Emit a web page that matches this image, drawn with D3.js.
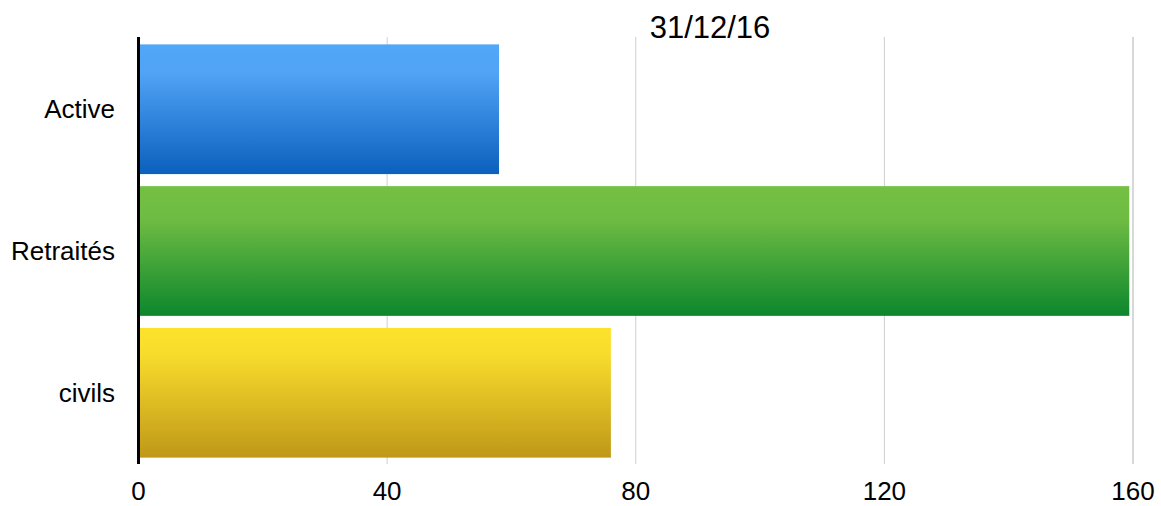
<!DOCTYPE html>
<html>
<head>
<meta charset="utf-8">
<title>31/12/16</title>
<script src="https://cdn.jsdelivr.net/npm/d3@7"></script>
<style>
  body { margin: 0; background: #fff; }
  text { font-family: "Liberation Sans", Arial, sans-serif; fill: #000; }
</style>
</head>
<body>
<script>
// data
var categories = ["Active", "Retraités", "civils"];
var values = [58, 159.4, 76];
var ticks = [0, 40, 80, 120, 160];
var title = "31/12/16";

// gradient stops per bar (top -> bottom)
var gradients = [
  [["0%", "#52a7f8"], ["22%", "#50a3f5"], ["100%", "#0b60bd"]],
  [["0%", "#73c044"], ["25%", "#6fbc43"], ["100%", "#0c872d"]],
  [["0%", "#fce22d"], ["20%", "#f8dc2c"], ["100%", "#bf9818"]]
];

var width = 1161, height = 506;

var svg = d3.select("body").append("svg")
    .attr("width", width)
    .attr("height", height);

var x = d3.scaleLinear().domain([0, 160]).range([138.5, 1133]);
var y = d3.scaleBand().domain(categories).range([38, 464])
    .paddingInner(0.085).paddingOuter(0.045);

var defs = svg.append("defs");
gradients.forEach(function(g, i) {
  var lg = defs.append("linearGradient")
      .attr("id", "grad" + i)
      .attr("x1", 0).attr("x2", 0).attr("y1", 0).attr("y2", 1);
  g.forEach(function(s) {
    lg.append("stop").attr("offset", s[0]).attr("stop-color", s[1]);
  });
});

// gridlines
svg.append("g").selectAll("line")
    .data(ticks.slice(1))
  .enter().append("line")
    .attr("x1", function(d) { return x(d); })
    .attr("x2", function(d) { return x(d); })
    .attr("y1", 37).attr("y2", 464)
    .attr("stroke", "#cfcfcf")
    .attr("stroke-width", function(d) { return d === 160 ? 1.6 : 1; });

// bars
svg.append("g").selectAll("rect")
    .data(values)
  .enter().append("rect")
    .attr("x", x(0))
    .attr("y", function(d, i) { return y(categories[i]); })
    .attr("width", function(d) { return x(d) - x(0); })
    .attr("height", y.bandwidth())
    .attr("fill", function(d, i) { return "url(#grad" + i + ")"; });

// axis line at zero
svg.append("line")
    .attr("x1", x(0)).attr("x2", x(0))
    .attr("y1", 37).attr("y2", 464)
    .attr("stroke", "#000")
    .attr("stroke-width", 3);

// category labels
svg.append("g").selectAll("text")
    .data(categories)
  .enter().append("text")
    .attr("x", 115)
    .attr("y", function(d) { return y(d) + y.bandwidth() / 2; })
    .attr("dy", "0.35em")
    .attr("text-anchor", "end")
    .style("font-size", "26px")
    .text(function(d) { return d; });

// tick labels
svg.append("g").selectAll("text")
    .data(ticks)
  .enter().append("text")
    .attr("x", function(d) { return x(d); })
    .attr("y", 500)
    .attr("text-anchor", "middle")
    .style("font-size", "26px")
    .text(function(d) { return d; });

// title
svg.append("text")
    .attr("x", 710)
    .attr("y", 38)
    .attr("text-anchor", "middle")
    .style("font-size", "31px")
    .text(title);
</script>
</body>
</html>
